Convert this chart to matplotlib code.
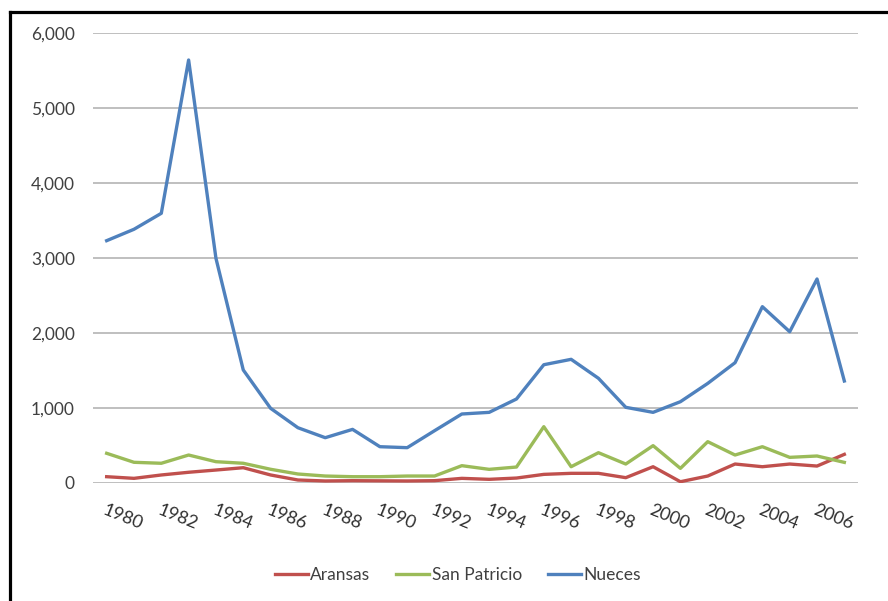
import matplotlib.pyplot as plt
from matplotlib.lines import Line2D
import numpy as np

years = list(range(1980, 2008))
aransas = [80, 58, 103, 139, 169, 200, 103, 36, 23, 27, 25, 23, 27, 58,
           45, 62, 111, 125, 125, 67, 213, 13, 89, 249, 213, 249, 222, 378]
san_patricio = [392, 272, 259, 369, 280, 259, 179, 116, 89, 80, 80, 89, 89, 227,
                178, 209, 747, 213, 400, 249, 494, 191, 547, 369, 480, 338, 356, 271]
nueces = [3227, 3379, 3592, 5636, 2992, 1503, 992, 733, 600, 711, 480, 467, 693, 916,
          938, 1116, 1573, 1645, 1392, 1005, 938, 1080, 1324, 1600, 2347, 2013, 2716, 1356]

series = [("Aransas", aransas, "#C0504D"),
          ("San Patricio", san_patricio, "#9BBB59"),
          ("Nueces", nueces, "#4F81BD")]

plt.rcParams['font.family'] = ['Lato', 'DejaVu Sans']

fig = plt.figure(figsize=(8.88, 6.01), dpi=100)
ax = fig.add_axes([93/888, 1 - 482.7/601, 765/888, 450/601])

x = np.arange(len(years))
for name, vals, col in series:
    ax.plot(x, vals, color=col, lw=2.4, label=name, solid_joinstyle='round')

ax.set_xlim(-0.5, len(years) - 0.5)
ax.set_ylim(0, 6000)
ax.set_yticks(range(0, 6001, 1000))
ax.set_yticklabels([f"{v:,}" for v in range(0, 6001, 1000)])
ax.yaxis.grid(True, color="#b4b4b4", lw=1.2)
ax.set_axisbelow(True)

ax.set_xticks(x[::2])
ax.set_xticklabels([str(y) for y in years[::2]], rotation=-22,
                   ha='left', va='top', rotation_mode='anchor')
ax.tick_params(axis='x', length=0, pad=14, labelsize=13, labelcolor="#303030")
ax.tick_params(axis='y', length=0, pad=13, labelsize=12.5, labelcolor="#404040")
for s in ax.spines.values():
    s.set_visible(False)

ax.legend(loc='center', bbox_to_anchor=(458/888, 1 - 575/601),
          bbox_transform=fig.transFigure, ncol=3, frameon=False,
          fontsize=12.5, handlelength=1.9, handletextpad=0.15,
          columnspacing=1.5, labelcolor="#404040")

# screenshot frame on left and top
fig.add_artist(Line2D([10/888, 10/888], [0, 1 - 12/601], color='black', lw=2.3,
                      transform=fig.transFigure))
fig.add_artist(Line2D([10/888, 1], [1 - 12/601, 1 - 12/601], color='black', lw=2.3,
                      transform=fig.transFigure))

fig.savefig("out.png", dpi=100)
